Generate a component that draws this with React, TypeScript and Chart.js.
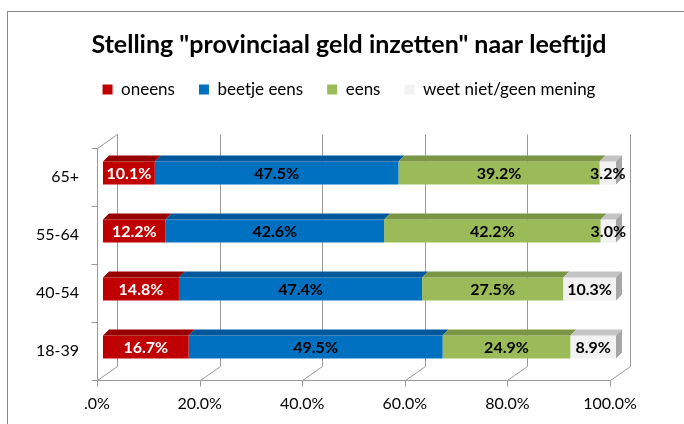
import React, { useEffect, useRef } from 'react';
import { Chart, registerables } from 'chart.js';

Chart.register(...registerables);

// ---------- data ----------
const categories = ['65+', '55-64', '40-54', '18-39'];
const seriesNames = ['oneens', 'beetje eens', 'eens', 'weet niet/geen mening'];
const oneens = [10.1, 12.2, 14.8, 16.7];
const beetjeEens = [47.5, 42.6, 47.4, 49.5];
const eens = [39.2, 42.2, 27.5, 24.9];
const weetNiet = [3.2, 3.0, 10.3, 8.9];
const xTickLabels = ['.0%', '20.0%', '40.0%', '60.0%', '80.0%', '100.0%'];
const chartTitle = 'Stelling "provinciaal geld inzetten" naar leeftijd';

// ---------- styles ----------
const frontColors = ['#C00000', '#0070C0', '#9BBB59', '#F2F2F2'];
const topColors = ['#970000', '#00589C', '#7A9644', '#C4C4C4'];
const sideColor = '#A6A6A6';
const labelColors = ['#FFFFFF', '#000000', '#000000', '#000000'];
const FONT = 'Lato';

const DEPTH_X = 6;
const DEPTH_Y = -6;
const BAR_SHIFT_X = 6;
const BAR_SHIFT_Y = -4;
const WALL_X = 20;
const WALL_Y = -14;

const CANVAS_W = 698;
const CANVAS_H = 424;

const threeDPlugin = {
  id: 'threeD',
  beforeDraw(chart: any) {
    const ctx = chart.ctx;
    ctx.save();
    ctx.fillStyle = '#FFFFFF';
    ctx.fillRect(0, 0, chart.width, chart.height);
    ctx.strokeStyle = '#868686';
    ctx.lineWidth = 1;
    ctx.strokeRect(7.5, 11.5, chart.width + 100, chart.height + 100);
    ctx.restore();
  },
  beforeDatasetsDraw(chart: any) {
    const { ctx, chartArea, scales } = chart;
    const xs = scales.x;
    const ys = scales.y;
    const L = Math.round(chartArea.left) + 0.5;
    const B = Math.round(chartArea.bottom) + 0.5;
    const T = Math.round(chartArea.top) + 0.5;
    const R = Math.round(xs.getPixelForValue(100)) + 0.5;
    ctx.save();
    ctx.strokeStyle = '#999999';
    ctx.lineWidth = 1;
    ctx.beginPath();
    xs.ticks.forEach((t: any) => {
      const px = Math.round(xs.getPixelForValue(t.value)) + 0.5;
      ctx.moveTo(px, B);
      ctx.lineTo(px + WALL_X, B + WALL_Y);
      ctx.moveTo(px + WALL_X, B + WALL_Y);
      ctx.lineTo(px + WALL_X, T + WALL_Y);
      ctx.moveTo(px, B);
      ctx.lineTo(px, B + 6);
    });
    ctx.moveTo(L, T);
    ctx.lineTo(L + WALL_X, T + WALL_Y);
    ctx.moveTo(L, T);
    ctx.lineTo(L, B);
    ctx.moveTo(L, B);
    ctx.lineTo(R, B);
    const n = categories.length;
    const band = (ys.bottom - ys.top) / n;
    for (let i = 0; i <= n; i++) {
      const yy = Math.round(ys.top + i * band) + 0.5;
      ctx.moveTo(L - 6, yy);
      ctx.lineTo(L, yy);
    }
    ctx.stroke();
    ctx.restore();
    ctx.save();
    ctx.translate(BAR_SHIFT_X, BAR_SHIFT_Y);
  },
  afterDatasetsDraw(chart: any) {
    const ctx = chart.ctx;
    const n = chart.data.datasets.length;
    const bars: any[] = [];
    chart.data.datasets.forEach((ds: any, di: number) => {
      const meta = chart.getDatasetMeta(di);
      meta.data.forEach((bar: any, i: number) => {
        const { x, y, base, height } = bar.getProps(['x', 'y', 'base', 'height'], true);
        const left = Math.min(x, base);
        const right = Math.max(x, base);
        const top = y - height / 2;
        const bottom = y + height / 2;
        ctx.fillStyle = topColors[di];
        ctx.beginPath();
        ctx.moveTo(left, top);
        ctx.lineTo(left + DEPTH_X, top + DEPTH_Y);
        ctx.lineTo(right + DEPTH_X, top + DEPTH_Y);
        ctx.lineTo(right, top);
        ctx.closePath();
        ctx.fill();
        if (di === n - 1) {
          ctx.fillStyle = sideColor;
          ctx.beginPath();
          ctx.moveTo(right, top);
          ctx.lineTo(right + DEPTH_X, top + DEPTH_Y);
          ctx.lineTo(right + DEPTH_X, bottom + DEPTH_Y);
          ctx.lineTo(right, bottom);
          ctx.closePath();
          ctx.fill();
        }
        bars.push({ di, value: ds.data[i], cx: (left + right) / 2, cy: y });
      });
    });
    ctx.font = `bold 16px ${FONT}`;
    ctx.textAlign = 'center';
    ctx.textBaseline = 'middle';
    bars.forEach((b) => {
      ctx.fillStyle = labelColors[b.di];
      ctx.fillText(`${b.value.toFixed(1)}%`, b.cx, b.cy + 1);
    });
    ctx.restore();
  },
};

export default function App() {
  const canvasRef = useRef<HTMLCanvasElement | null>(null);

  useEffect(() => {
    if (!canvasRef.current) return;
    const seriesValues = [oneens, beetjeEens, eens, weetNiet];
    const chart = new Chart(canvasRef.current, {
      type: 'bar',
      data: {
        labels: categories,
        datasets: seriesNames.map((name, i) => ({
          label: name,
          data: seriesValues[i],
          backgroundColor: frontColors[i],
          borderWidth: 0,
          categoryPercentage: 1,
          barPercentage: 0.4,
          clip: false as any,
        })),
      },
      options: {
        indexAxis: 'y',
        responsive: false,
        animation: false,
        devicePixelRatio: 1,
        layout: { padding: 0 },
        font: { family: FONT },
        plugins: {
          title: {
            display: true,
            text: chartTitle,
            color: '#000000',
            font: { family: FONT, size: 25, weight: 'bold', lineHeight: 1 },
            padding: { top: 32, bottom: 0 },
          },
          legend: {
            display: true,
            position: 'top',
            labels: {
              color: '#000000',
              font: { family: FONT, size: 17 },
              boxWidth: 10,
              boxHeight: 10,
              padding: 24,
            },
          },
          tooltip: { enabled: false },
        },
        scales: {
          x: {
            type: 'linear',
            position: 'bottom',
            stacked: true,
            min: 0,
            max: 100,
            grid: { display: false, drawTicks: false },
            border: { display: false },
            ticks: {
              stepSize: 20,
              autoSkip: false,
              maxRotation: 0,
              padding: 14,
              color: '#000000',
              font: { family: FONT, size: 16 },
              callback: (_v: any, i: number) => xTickLabels[i],
            },
            afterFit: (s: any) => {
              s.height = 44;
            },
          },
          x2: {
            type: 'linear',
            position: 'top',
            display: true,
            grid: { display: false, drawTicks: false },
            border: { display: false },
            ticks: { display: false },
            afterFit: (s: any) => {
              s.height = 40;
            },
          },
          y: {
            type: 'category',
            position: 'left',
            stacked: true,
            grid: { display: false, drawTicks: false },
            border: { display: false },
            ticks: {
              padding: 18,
              color: '#000000',
              font: { family: FONT, size: 16 },
            },
            afterFit: (s: any) => {
              s.width = 97;
            },
          },
          y2: {
            type: 'linear',
            position: 'right',
            display: true,
            grid: { display: false, drawTicks: false },
            border: { display: false },
            ticks: { display: false },
            afterFit: (s: any) => {
              s.width = CANVAS_W - 610;
            },
          },
        },
      } as any,
      plugins: [threeDPlugin],
    });
    return () => chart.destroy();
  }, []);

  return (
    <div
      style={{
        position: 'fixed',
        left: 0,
        top: 0,
        width: 684,
        height: 424,
        overflow: 'hidden',
        background: '#FFFFFF',
      }}
    >
      <canvas
        ref={canvasRef}
        width={CANVAS_W}
        height={CANVAS_H}
        style={{ display: 'block', width: CANVAS_W, height: CANVAS_H }}
      />
    </div>
  );
}
